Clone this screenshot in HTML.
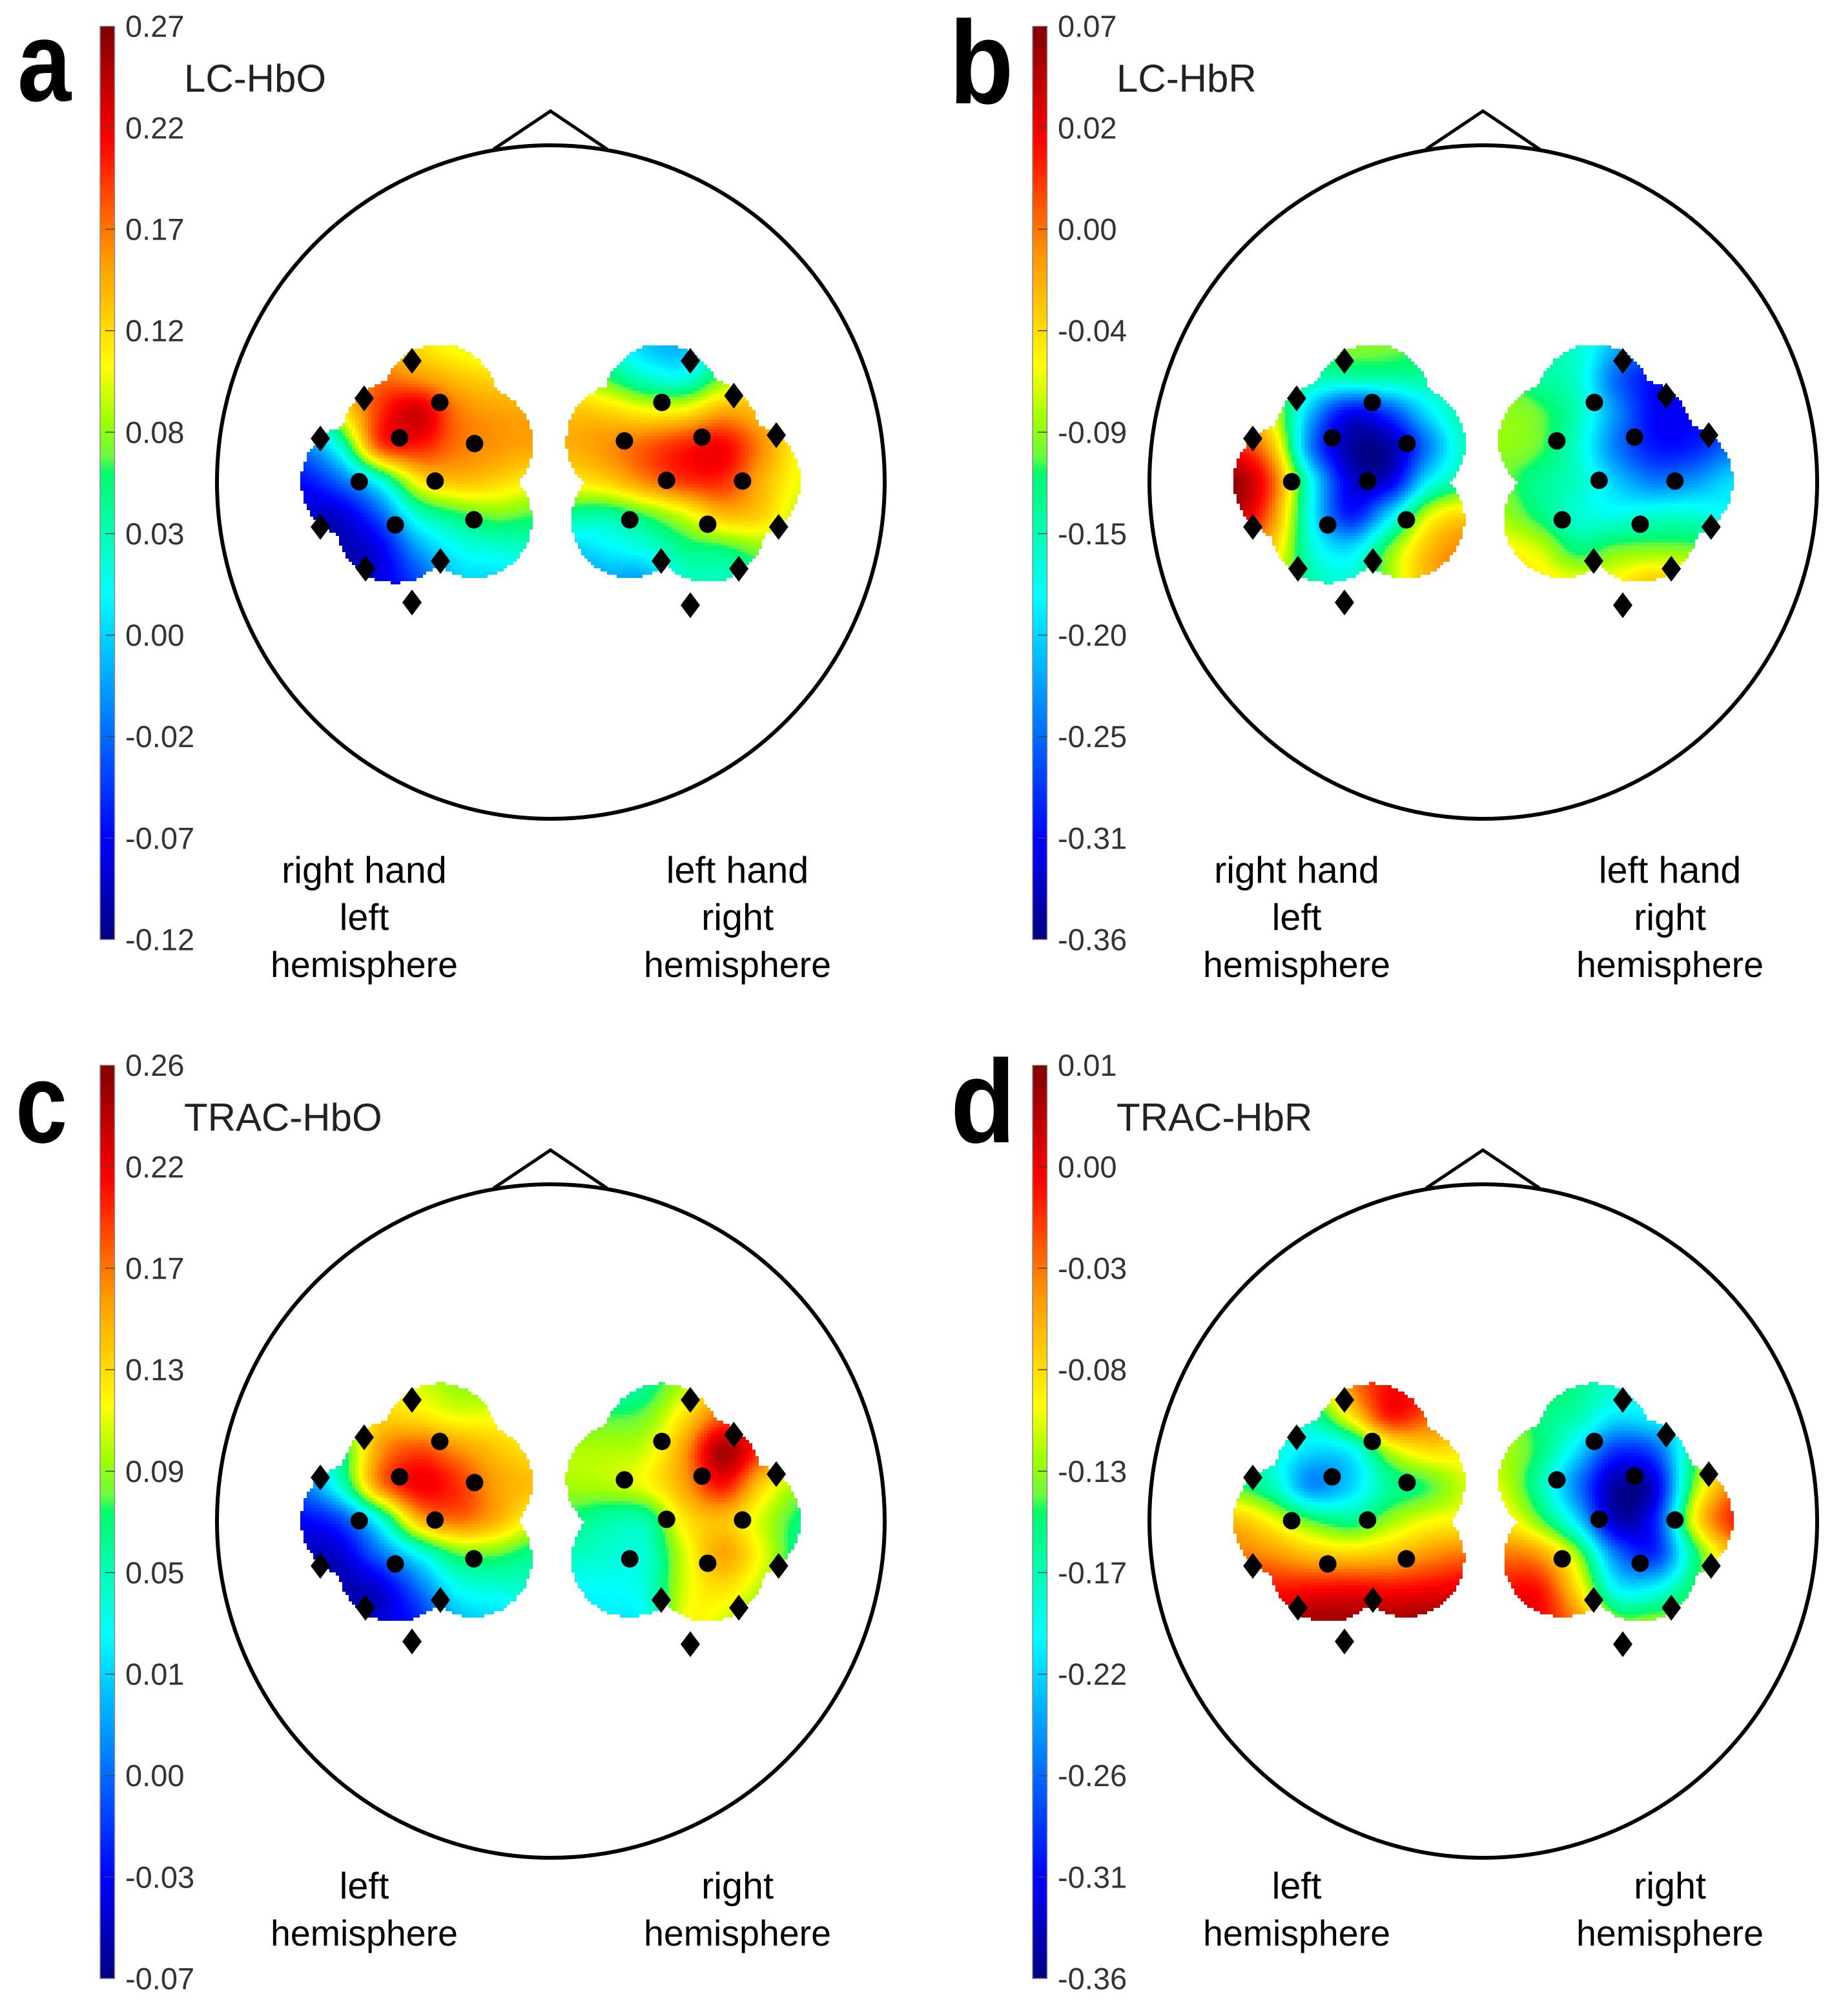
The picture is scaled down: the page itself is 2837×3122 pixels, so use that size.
<!DOCTYPE html>
<html lang="en">
<head>
<meta charset="utf-8">
<title>Topographic maps of HbO and HbR responses</title>
<style>
html,body{margin:0;padding:0;background:#fff;}
svg{display:block;}
text{font-family:"Liberation Sans",sans-serif;}
</style>
</head>
<body>
<svg id="figure" xmlns="http://www.w3.org/2000/svg" width="2837" height="3122" viewBox="0 0 2837 3122">
<rect x="0" y="0" width="2837" height="3122" fill="#ffffff"/>
<defs id="defs"></defs>
</svg>
<script>
// ---- colour-bar tick labels (top to bottom) ----
const lcHboTicks   = ["0.27","0.22","0.17","0.12","0.08","0.03","0.00","-0.02","-0.07","-0.12"];
const lcHbrTicks   = ["0.07","0.02","0.00","-0.04","-0.09","-0.15","-0.20","-0.25","-0.31","-0.36"];
const tracHboTicks = ["0.26","0.22","0.17","0.13","0.09","0.05","0.01","0.00","-0.03","-0.07"];
const tracHbrTicks = ["0.01","0.00","-0.03","-0.08","-0.13","-0.17","-0.22","-0.26","-0.31","-0.36"];

// ---- optode locations in normalised head coordinates ----
const detectorXLeft  = [-0.332,-0.452,-0.228,-0.573,-0.346,-0.465,-0.230];
const detectorYLeft  = [0.236,0.131,0.114,0.001,0.003,-0.127,-0.112];
const detectorXRight = [0.332,0.220,0.452,0.346,0.573,0.236,0.469];
const detectorYRight = [0.236,0.122,0.133,0.005,0.003,-0.112,-0.125];
const sourceXLeft    = [-0.415,-0.558,-0.689,-0.689,-0.554,-0.330,-0.415];
const sourceYLeft    = [0.359,0.248,0.129,-0.133,-0.257,-0.234,-0.357];
const sourceXRight   = [0.417,0.547,0.674,0.681,0.562,0.330,0.417];
const sourceYRight   = [0.359,0.256,0.139,-0.133,-0.257,-0.234,-0.365];

// ---- response maps: % of each panel's colour range, sampled on a coarse lattice ----
const lcHboLeft = [
[68,68,68,66,61,58,58],
[60,70,78,75,70,67,67],
[35,62,83,92,78,74,73],
[24,42,80,85,78,75,73],
[12,22,40,64,70,68,64],
[6,7,20,42,50,54,52],
[2,4,9,27,38,41,43],
[0,2,8,18,32,33,35]];
const lcHboRight = [
[48,42,32,30,44,55,58],
[60,52,43,40,54,63,63],
[70,68,64,65,73,70,64],
[72,75,80,85,88,76,63],
[64,68,76,83,84,72,62],
[47,46,52,60,70,68,58],
[32,36,40,48,50,55,56],
[26,28,27,42,43,46,48]];
const lcHbrLeft = [
[58,56,55,55,54,52,50],
[62,58,46,45,46,46,44],
[70,60,30,11,18,35,46],
[85,70,24,3,3,24,44],
[98,80,38,8,8,36,48],
[94,76,38,14,34,60,68],
[78,68,42,35,54,70,77],
[70,62,46,42,56,72,78]];
const lcHbrRight = [
[50,46,42,30,20,14,14],
[54,47,42,22,12,11,11],
[56,53,44,26,11,11,12],
[56,53,42,24,13,14,22],
[54,48,43,32,24,27,34],
[57,50,42,40,42,42,38],
[64,60,50,54,55,54,50],
[68,65,63,64,70,66,58]];
const tracHboLeft = [
[60,62,63,60,56,54,54],
[50,56,67,66,62,62,60],
[35,48,74,82,76,70,66],
[24,42,75,88,84,74,70],
[11,18,40,70,78,72,62],
[5,7,22,38,52,53,48],
[2,4,7,22,38,41,43],
[0,2,7,14,30,33,35]];
const tracHboRight = [
[44,44,48,58,68,72,70],
[52,52,54,66,80,80,70],
[58,58,60,74,96,82,66],
[57,58,62,73,86,68,56],
[50,46,46,65,70,60,50],
[44,42,42,60,73,62,48],
[38,38,41,60,66,58,50],
[36,36,38,62,60,52,50]];
const tracHbrLeft = [
[56,52,56,76,87,86,84],
[54,50,46,64,85,80,75],
[46,42,34,37,58,66,65],
[52,44,26,33,47,52,60],
[70,62,52,48,56,62,64],
[78,75,70,68,70,75,78],
[88,86,87,88,87,88,90],
[92,92,97,97,96,98,98]];
const tracHbrRight = [
[56,54,48,42,38,40,50],
[58,50,45,35,37,40,55],
[58,50,34,16,20,48,62],
[60,46,24,3,8,54,76],
[66,54,34,5,14,62,84],
[78,74,56,24,16,48,70],
[86,86,66,38,38,52,60],
[90,88,76,56,56,56,56]];

// ---- layout constants ----
const HEAD_CX = 853, HEAD_CY = 746.5, HEAD_RX = 517, HEAD_RY = 521.5;
const SCALE_RX = 518, SCALE_RY = 522.5;
const PANEL_DX = 1444, PANEL_DY = 1609;
const CELL = 5, MASK_R = 90;
const LATTICE_DX = 60, LATTICE_DY = 53.33, LATTICE_Y0 = 531.7;
const LATTICE_X0_LEFT = 467, LATTICE_X0_RIGHT = 879;
const BAR_X = 155, BAR_W = 22.5, BAR_TOP = 40.7, BAR_BOTTOM = 1455;

const colormapPos = [0,0.11,0.245,0.377,0.45,0.51,0.53,0.57,0.627,0.75,0.875,1];
const colormapR   = [0,0,0,0,0,0,110,160,255,255,255,128];
const colormapG   = [0,0,128,255,255,250,250,255,255,150,0,0];
const colormapB   = [128,255,255,255,175,110,60,0,0,0,0,0];

const panels = [
 {id:"lc-hbo",   letter:"a", lx:27,   ly:156, lsize:176, lsx:0.85, title:"LC-HbO",   ticks:lcHboTicks,   left:lcHboLeft,   right:lcHboRight,   col:0,row:0, lines:[["right hand","left","hemisphere"],["left hand","right","hemisphere"]]},
 {id:"lc-hbr",   letter:"b", lx:1470, ly:160, lsize:183, lsx:0.89, title:"LC-HbR",   ticks:lcHbrTicks,   left:lcHbrLeft,   right:lcHbrRight,   col:1,row:0, lines:[["right hand","left","hemisphere"],["left hand","right","hemisphere"]]},
 {id:"trac-hbo", letter:"c", lx:24,   ly:1769, lsize:176, lsx:0.82, title:"TRAC-HbO", ticks:tracHboTicks, left:tracHboLeft, right:tracHboRight, col:0,row:1, lines:[["left","hemisphere"],["right","hemisphere"]]},
 {id:"trac-hbr", letter:"d", lx:1472, ly:1769, lsize:183, lsx:0.9, title:"TRAC-HbR", ticks:tracHbrTicks, left:tracHbrLeft, right:tracHbrRight, col:1,row:1, lines:[["left","hemisphere"],["right","hemisphere"]]}
];

const SVGNS = "http://www.w3.org/2000/svg";
const root = document.getElementById("figure");

function make(tag, parent){
  const el = document.createElementNS(SVGNS, tag);
  parent.appendChild(el);
  return el;
}
function colorAt(t){
  t = Math.max(0, Math.min(1, t));
  let i = 0;
  while (i < colormapPos.length - 2 && t > colormapPos[i + 1]) i++;
  const f = (t - colormapPos[i]) / (colormapPos[i + 1] - colormapPos[i]);
  const r = Math.round(colormapR[i] + f * (colormapR[i + 1] - colormapR[i]));
  const g = Math.round(colormapG[i] + f * (colormapG[i + 1] - colormapG[i]));
  const b = Math.round(colormapB[i] + f * (colormapB[i + 1] - colormapB[i]));
  return "rgb(" + r + "," + g + "," + b + ")";
}
function colorScale(v){ return colorAt(v / 100); }
function headX(x, p){ return p.col * PANEL_DX + HEAD_CX + x * SCALE_RX; }
function headY(y, p){ return p.row * PANEL_DY + HEAD_CY - y * SCALE_RY; }
function cubic(a, b, c, d, f){
  return b + 0.5 * f * (c - a + f * (2 * a - 5 * b + 4 * c - d + f * (3 * (b - c) + d - a)));
}
function sample(grid, gx, gy){
  const rows = grid.length, cols = grid[0].length;
  const ix = Math.max(0, Math.min(cols - 2, Math.floor(gx)));
  const iy = Math.max(0, Math.min(rows - 2, Math.floor(gy)));
  const fx = Math.max(0, Math.min(1, gx - ix)), fy = Math.max(0, Math.min(1, gy - iy));
  const vals = [];
  for (let j = -1; j <= 2; j++){
    const r = grid[Math.max(0, Math.min(rows - 1, iy + j))];
    const at = function(k){ return r[Math.max(0, Math.min(cols - 1, k))]; };
    vals.push(cubic(at(ix - 1), at(ix), at(ix + 1), at(ix + 2), fx));
  }
  return cubic(vals[0], vals[1], vals[2], vals[3], fy);
}

function drawHeatmap(p, g, grid, xs, ys, latticeX0){
  const ox = p.col * PANEL_DX, oy = p.row * PANEL_DY;
  const cx = xs.map(function(x){ return headX(x, p); });
  const cy = ys.map(function(y){ return headY(y, p); });
  const minX = Math.floor((Math.min.apply(null, cx) - MASK_R) / CELL) * CELL;
  const maxX = Math.max.apply(null, cx) + MASK_R;
  const minY = Math.floor((Math.min.apply(null, cy) - MASK_R) / CELL) * CELL;
  const maxY = Math.max.apply(null, cy) + MASK_R;
  for (let y = minY; y <= maxY; y += CELL){
    for (let x = minX; x <= maxX; x += CELL){
      const mx = x + CELL / 2, my = y + CELL / 2;
      let inside = false;
      for (let k = 0; k < cx.length; k++){
        const dx = mx - cx[k], dy = my - cy[k];
        if (dx * dx + dy * dy <= MASK_R * MASK_R){ inside = true; break; }
      }
      if (!inside) continue;
      const v = sample(grid, (mx - ox - latticeX0) / LATTICE_DX, (my - oy - LATTICE_Y0) / LATTICE_DY);
      const cell = make("rect", g);
      
      
      cell.setAttribute("x", x);
      cell.setAttribute("y", y);
      cell.setAttribute("width", CELL);
      cell.setAttribute("height", CELL);
      cell.setAttribute("fill", colorScale(v));
    }
  }
}

function drawOptodes(p, parent, xs, ys, sxs, sys){
  for (let i = 0; i < sxs.length; i++){
    const x = headX(sxs[i], p), y = headY(sys[i], p);
    const d = make("polygon", parent);
    
    
    d.setAttribute("points", x + "," + (y - 20) + " " + (x + 15) + "," + y + " " + x + "," + (y + 20) + " " + (x - 15) + "," + y);
    d.setAttribute("fill", "#000");
  }
  for (let i = 0; i < xs.length; i++){
    const c = make("ellipse", parent);
    
    
    c.setAttribute("cx", headX(xs[i], p));
    c.setAttribute("cy", headY(ys[i], p));
    c.setAttribute("rx", 13.5);
    c.setAttribute("ry", 13.5);
    c.setAttribute("fill", "#000");
  }
}

// shared gradient for the colour bars
const defs = document.getElementById("defs");
const grad = make("linearGradient", defs);
grad.setAttribute("id", "jetGradient");
grad.setAttribute("x1", "0"); grad.setAttribute("y1", "1");
grad.setAttribute("x2", "0"); grad.setAttribute("y2", "0");
for (let i = 0; i < colormapPos.length; i++){
  const s = make("stop", grad);
  s.setAttribute("offset", colormapPos[i]);
  s.setAttribute("stop-color", colorAt(colormapPos[i]));
}

panels.forEach(function(p){
  const ox = p.col * PANEL_DX, oy = p.row * PANEL_DY;
  const g = make("g", root);
  
  

  // panel letter
  const letter = make("text", g);
  
  
  letter.setAttribute("transform", "translate(" + p.lx + "," + p.ly + ") scale(" + p.lsx + ",1)");
  letter.setAttribute("font-size", p.lsize);
  letter.setAttribute("font-weight", "bold");
  letter.setAttribute("fill", "#000");
  letter.textContent = p.letter;

  // colour bar
  const bar = make("rect", g);
  
  
  bar.setAttribute("x", ox + BAR_X);
  bar.setAttribute("y", oy + BAR_TOP);
  bar.setAttribute("width", BAR_W);
  bar.setAttribute("height", BAR_BOTTOM - BAR_TOP);
  bar.setAttribute("fill", "url(#jetGradient)");
  bar.setAttribute("stroke", "#8a8a8a");
  bar.setAttribute("stroke-width", 1.5);

  const step = (BAR_BOTTOM - BAR_TOP) / (p.ticks.length - 1);
  p.ticks.forEach(function(label, i){
    const ty = oy + BAR_TOP + i * step;
    if (i > 0 && i < p.ticks.length - 1){
      const tick = make("line", g);
      
      
      tick.setAttribute("x1", ox + BAR_X + 8);
      tick.setAttribute("x2", ox + BAR_X + BAR_W);
      tick.setAttribute("y1", ty);
      tick.setAttribute("y2", ty);
      tick.setAttribute("stroke", "#444");
      tick.setAttribute("stroke-width", 1.5);
    }
    const t = make("text", g);
    
    
    t.setAttribute("x", ox + 194);
    t.setAttribute("y", ty + 16.5);
    t.setAttribute("font-size", 47);
    t.setAttribute("fill", "#333");
    t.textContent = label;
  });

  // title
  const title = make("text", g);
  
  
  title.setAttribute("x", ox + 285);
  title.setAttribute("y", oy + 142);
  title.setAttribute("font-size", 60);
  title.setAttribute("fill", "#222");
  title.textContent = p.title;

  // heatmaps
  const leftG = make("g", g);
  
  
  leftG.setAttribute("shape-rendering", "crispEdges");
  drawHeatmap(p, leftG, p.left, detectorXLeft, detectorYLeft, LATTICE_X0_LEFT);
  const rightG = make("g", g);
  
  
  rightG.setAttribute("shape-rendering", "crispEdges");
  drawHeatmap(p, rightG, p.right, detectorXRight, detectorYRight, LATTICE_X0_RIGHT);

  // head outline and nose
  const nose = make("polyline", g);
  
  
  nose.setAttribute("points", (ox + 764.5) + "," + (oy + 231) + " " + (ox + 852.5) + "," + (oy + 172) + " " + (ox + 940) + "," + (oy + 231));
  nose.setAttribute("fill", "none");
  nose.setAttribute("stroke", "#000");
  nose.setAttribute("stroke-width", 5);
  const head = make("ellipse", g);
  
  
  head.setAttribute("cx", ox + HEAD_CX);
  head.setAttribute("cy", oy + HEAD_CY);
  head.setAttribute("rx", HEAD_RX);
  head.setAttribute("ry", HEAD_RY);
  head.setAttribute("fill", "none");
  head.setAttribute("stroke", "#000");
  head.setAttribute("stroke-width", 6);

  // optodes
  const opt = make("g", g);
  
  
  drawOptodes(p, opt, detectorXLeft, detectorYLeft, sourceXLeft, sourceYLeft);
  drawOptodes(p, opt, detectorXRight, detectorYRight, sourceXRight, sourceYRight);

  // hemisphere captions
  [564, 1142].forEach(function(cx, side){
    const lines = p.lines[side];
    lines.forEach(function(line, i){
      const t = make("text", g);
      
      
      t.setAttribute("x", ox + cx);
      const base = p.row === 0 ? 1513 : 3013;
      t.setAttribute("y", base - (lines.length - 1 - i) * 73);
      t.setAttribute("font-size", line === "hemisphere" ? 55.5 : 57.5);
      t.setAttribute("text-anchor", "middle");
      t.setAttribute("fill", "#000");
      t.textContent = line;
    });
  });
});
</script>
</body>
</html>
